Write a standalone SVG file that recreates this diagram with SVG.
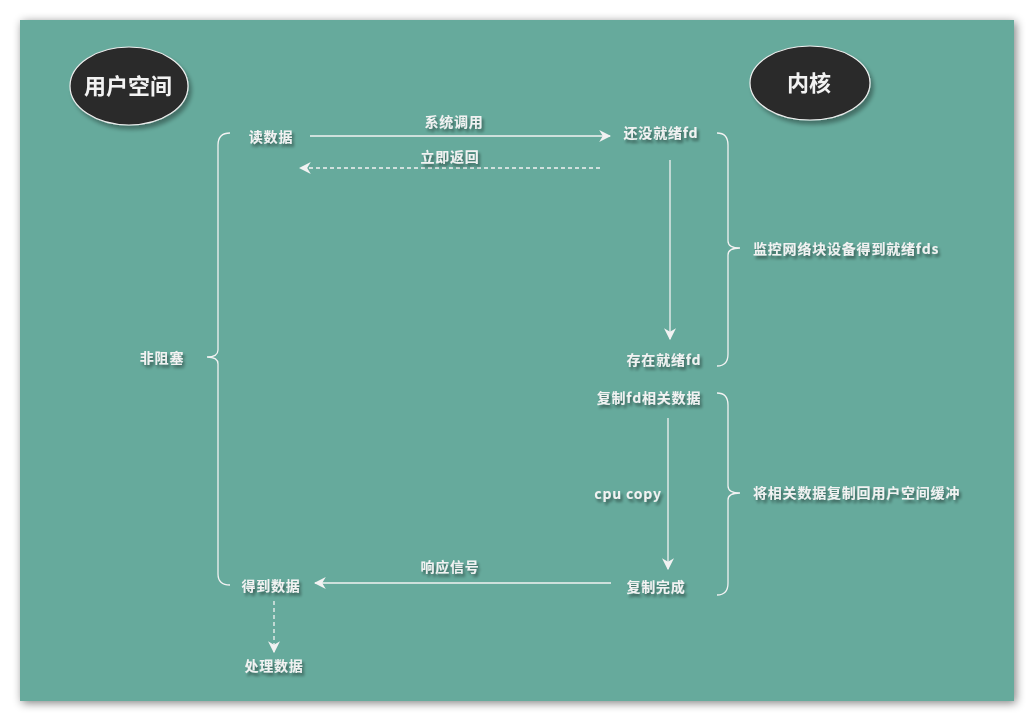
<svg xmlns="http://www.w3.org/2000/svg" width="1034" height="721" viewBox="0 0 1034 721">
<defs>
<filter id="bgsh" x="-5%" y="-5%" width="110%" height="110%"><feGaussianBlur in="SourceAlpha" stdDeviation="5"/><feOffset dx="2" dy="2"/><feComponentTransfer><feFuncA type="linear" slope="0.5"/></feComponentTransfer><feMerge><feMergeNode/><feMergeNode in="SourceGraphic"/></feMerge></filter>
<filter id="tsh" x="-20%" y="-40%" width="140%" height="200%"><feGaussianBlur in="SourceAlpha" stdDeviation="1.5"/><feOffset dx="2" dy="3"/><feComponentTransfer><feFuncA type="linear" slope="0.45"/></feComponentTransfer><feMerge><feMergeNode/><feMergeNode in="SourceGraphic"/></feMerge></filter>
<filter id="esh" x="-20%" y="-20%" width="150%" height="150%"><feGaussianBlur in="SourceAlpha" stdDeviation="2"/><feOffset dx="3" dy="4"/><feComponentTransfer><feFuncA type="linear" slope="0.35"/></feComponentTransfer><feMerge><feMergeNode/><feMergeNode in="SourceGraphic"/></feMerge></filter>
<marker id="ah" viewBox="0 0 10 10" refX="9" refY="5" markerWidth="12" markerHeight="12" markerUnits="userSpaceOnUse" orient="auto"><path d="M0,0 L10,5 L0,10 L3,5 Z" fill="#f2f2f2"/></marker>
</defs>
<style>
.t{font-family:"Noto Sans CJK SC","Liberation Sans",sans-serif;font-weight:bold;font-size:14px;letter-spacing:0.8px;fill:#f2f2f2}
.big{font-size:22px;letter-spacing:0}
.ln{stroke:#f2f2f2;stroke-width:1.3;fill:none}
.ds{stroke-dasharray:4 3}
</style>
<rect x="20" y="20" width="994" height="681" fill="#66aa9c" filter="url(#bgsh)"/>
<g id="user-space" filter="url(#esh)"><ellipse cx="129" cy="86" rx="59" ry="39" fill="#292929" stroke="#eeeeee" stroke-width="1.2"/><text class="t big" x="128" y="94" text-anchor="middle">用户空间</text></g>
<g id="kernel" filter="url(#esh)"><ellipse cx="810" cy="83" rx="60" ry="37" fill="#292929" stroke="#eeeeee" stroke-width="1.2"/><text class="t big" x="809" y="91" text-anchor="middle">内核</text></g>
<g id="connectors">
<line class="ln" x1="310" y1="136" x2="610" y2="136" marker-end="url(#ah)"/>
<line class="ln ds" x1="600" y1="168" x2="300" y2="168" marker-end="url(#ah)"/>
<line class="ln" x1="670" y1="160" x2="670" y2="339" marker-end="url(#ah)"/>
<line class="ln" x1="668" y1="418" x2="668" y2="569" marker-end="url(#ah)"/>
<line class="ln" x1="611" y1="583" x2="315" y2="583" marker-end="url(#ah)"/>
<line class="ln ds" x1="274" y1="601" x2="274" y2="652" marker-end="url(#ah)"/>
<path class="ln" d="M230,133 Q218,133 218,145 L218,350 Q218,357 207,357 Q218,357 218,364 L218,574 Q218,585 230,585"/>
<path class="ln" d="M717,133 Q728,133 728,145 L728,241 Q728,248 740,248 Q728,248 728,255 L728,354 Q728,366 717,366"/>
<path class="ln" d="M717,393 Q728,393 728,405 L728,486 Q728,493 740,493 Q728,493 728,500 L728,583 Q728,595 717,595"/>
</g>
<g id="labels" filter="url(#tsh)">
<text class="t" x="271" y="142" text-anchor="middle">读数据</text>
<text class="t" x="454" y="127" text-anchor="middle">系统调用</text>
<text class="t" x="450" y="162" text-anchor="middle">立即返回</text>
<text class="t" x="661" y="138" text-anchor="middle">还没就绪fd</text>
<text class="t" x="664" y="365" text-anchor="middle">存在就绪fd</text>
<text class="t" x="649" y="403" text-anchor="middle">复制fd相关数据</text>
<text class="t" x="628" y="499" text-anchor="middle">cpu  copy</text>
<text class="t" x="656" y="592" text-anchor="middle">复制完成</text>
<text class="t" x="450" y="572" text-anchor="middle">响应信号</text>
<text class="t" x="271" y="591" text-anchor="middle">得到数据</text>
<text class="t" x="274" y="671" text-anchor="middle">处理数据</text>
<text class="t" x="162" y="363" text-anchor="middle">非阻塞</text>
<text class="t" x="753" y="254">监控网络块设备得到就绪fds</text>
<text class="t" x="753" y="498">将相关数据复制回用户空间缓冲</text>
</g>
</svg>
